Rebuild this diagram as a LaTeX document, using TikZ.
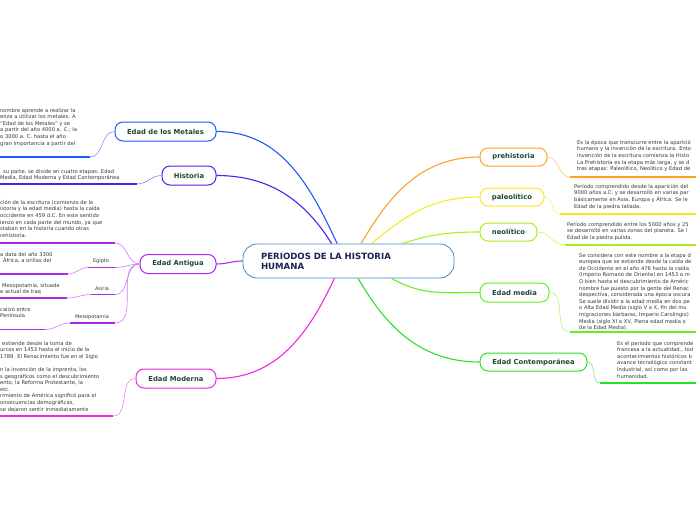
\documentclass[tikz,border=0pt]{standalone}
\usepackage{fontspec}
\setmainfont{DejaVu Sans}

\definecolor{txtverde}{RGB}{28,72,56}
\definecolor{txtazul}{RGB}{22,38,84}
\definecolor{txtgris}{RGB}{55,55,55}
\definecolor{bordecentro}{RGB}{60,140,205}
\definecolor{cmetales}{RGB}{30,90,250}
\definecolor{chistoria}{RGB}{80,30,240}
\definecolor{cantigua}{RGB}{170,40,240}
\definecolor{cmoderna}{RGB}{240,40,220}
\definecolor{cprehist}{RGB}{255,160,40}
\definecolor{cpaleo}{RGB}{245,235,30}
\definecolor{cneo}{RGB}{170,240,30}
\definecolor{cmedia}{RGB}{100,240,30}
\definecolor{ccontemp}{RGB}{40,225,40}

\begin{document}
\begin{tikzpicture}[x=1pt,y=-1pt,
  centro/.style={draw=bordecentro, line width=0.8pt, rounded corners=14pt, fill=white,
    minimum height=34pt, text width=175pt, inner xsep=18pt, align=left,
    text=txtazul, font=\bfseries\fontsize{8.6}{10}\selectfont},
  tema/.style={draw=#1, line width=1pt, rounded corners=8pt, fill=white,
    minimum height=19pt, inner sep=0pt, text=txtverde,
    font=\bfseries\fontsize{6.8}{7}\selectfont},
  hoja/.style={anchor=north west, align=left, inner sep=0pt, text=txtgris,
    font=\fontsize{5.2}{6.6}\selectfont},
  sub/.style={inner sep=0pt, text=txtgris, font=\fontsize{5}{6}\selectfont},
  rama/.style={draw=#1, line width=1.1pt},
  enlace/.style={draw=#1!60, line width=0.6pt},
  raya/.style={draw=#1, line width=1.8pt}]
  \useasboundingbox (0,0) rectangle (696,520);
  \clip (0,0) rectangle (696,520);

  \node[centro] (centro) at (348.5,261) {PERIODOS DE LA HISTORIA\\HUMANA};

  % ramas de la izquierda
  \node[tema=cmetales, minimum width=101pt] (metales) at (165.5,131.5) {Edad de los Metales};
  \node[tema=chistoria, minimum width=54pt] (historia) at (189,175.5) {Historia};
  \node[tema=cantigua, minimum width=76pt] (antigua) at (178,264) {Edad Antigua};
  \node[tema=cmoderna, minimum width=80pt] (moderna) at (176,378.5) {Edad Moderna};

  % ramas de la derecha
  \node[tema=cprehist, minimum width=67pt, minimum height=18pt] (prehist) at (513.5,157) {prehistoria};
  \node[tema=cpaleo, minimum width=64pt, minimum height=18pt] (paleo) at (512,197) {paleolítico};
  \node[tema=cneo, minimum width=57pt, minimum height=18pt] (neo) at (508.5,232) {neolítico};
  \node[tema=cmedia, minimum width=69pt] (media) at (514.5,292.5) {Edad media};
  \node[tema=ccontemp, minimum width=107pt, minimum height=18pt] (contemp) at (533.5,362) {Edad Contemporánea};

  \draw[rama=cmetales] (centro.123) to[out=115,in=0] (metales.east);
  \draw[rama=chistoria] (centro.134) to[out=122,in=0] (historia.east);
  \draw[rama=cantigua] (centro.west) to[out=180,in=0] (antigua.east);
  \draw[rama=cmoderna] (centro.231) to[out=-115,in=0] (moderna.east);
  \draw[rama=cprehist] (centro.54) to[out=60,in=180] (prehist.west);
  \draw[rama=cpaleo] (centro.37) to[out=40,in=180] (paleo.west);
  \draw[rama=cneo] (centro.18) to[out=18,in=180] (neo.west);
  \draw[rama=cmedia] (centro.338) to[out=-30,in=180] (media.west);
  \draw[rama=ccontemp] (centro.299) to[out=-60,in=180] (contemp.west);

  % textos de la izquierda
  \node[hoja] (tmetales) at (0,108) {nombre aprende a realizar la\\enza a utilizar los metales. A\\"Edad de los Metales" y se\\a partir del año 4000 a. C.; la\\o 3000 a. C. hasta el año\\gran importancia a partir del};
  \coordinate (metales-r) at (90,157);
  \coordinate (metales-l) at (0,157);
  \draw[enlace=cmetales] (metales.west) to[out=180,in=0] (metales-r);
  \draw[raya=cmetales] (metales-r) -- (metales-l);

  \node[hoja] (thistoria) at (0,169) {\hspace{3pt}su parte, se divide en cuatro etapas: Edad\\Media, Edad Moderna y Edad Contemporánea};
  \coordinate (historia-r) at (137,184);
  \coordinate (historia-l) at (0,184);
  \draw[enlace=chistoria] (historia.west) to[out=180,in=0] (historia-r);
  \draw[raya=chistoria] (historia-r) -- (historia-l);

  \node[hoja] (tantigua) at (0,200) {ción de la escritura (comienzo de la\\istoria y la edad media) hasta la caída\\occidente en 459 d.C. En este sentido\\ienzo en cada parte del mundo, ya que\\staban en la historia cuando otras\\rehistoria.};
  \coordinate (antigua-r) at (115,243);
  \coordinate (antigua-l) at (0,243);
  \draw[enlace=cantigua] (antigua.west) to[out=180,in=0] (antigua-r);
  \draw[raya=cantigua] (antigua-r) -- (antigua-l);

  \node[sub] (egipto) at (101,261) {Egipto};
  \coordinate (egipto-r) at (115,267.5);
  \coordinate (egipto-m) at (88,267.5);
  \coordinate (egipto-t) at (68,274);
  \coordinate (egipto-l) at (0,274);
  \draw[enlace=cantigua] (antigua.west) to[out=180,in=0] (egipto-r);
  \draw[raya=cantigua] (egipto-r) -- (egipto-m);
  \draw[enlace=cantigua] (egipto-m) to[out=180,in=0] (egipto-t);
  \draw[raya=cantigua] (egipto-t) -- (egipto-l);
  \node[hoja] (tegipto) at (0,252) {a data del año 3300\\\hspace{3pt}África, a orillas del};

  \node[sub] (asiria) at (102,289) {Asiria};
  \coordinate (asiria-r) at (115,294.5);
  \coordinate (asiria-m) at (91,294.5);
  \coordinate (asiria-t) at (67,298);
  \coordinate (asiria-l) at (0,298);
  \draw[enlace=cantigua] (antigua.west) to[out=180,in=0] (asiria-r);
  \draw[raya=cantigua] (asiria-r) -- (asiria-m);
  \draw[enlace=cantigua] (asiria-m) to[out=180,in=0] (asiria-t);
  \draw[raya=cantigua] (asiria-t) -- (asiria-l);
  \node[hoja] (tasiria) at (0,283) {\hspace{2pt}Mesopotamia, situada\\e actual de Iraq};

  \node[sub] (mesopotamia) at (92,317) {Mesopotamia};
  \coordinate (meso-r) at (115,323);
  \coordinate (meso-m) at (70,323);
  \coordinate (meso-t) at (45,329.5);
  \coordinate (meso-l) at (0,329.5);
  \draw[enlace=cantigua] (antigua.west) to[out=180,in=0] (meso-r);
  \draw[raya=cantigua] (meso-r) -- (meso-m);
  \draw[enlace=cantigua] (meso-m) to[out=180,in=0] (meso-t);
  \draw[raya=cantigua] (meso-t) -- (meso-l);
  \node[hoja] (tmeso) at (0,307) {calizó entre\\Península};

  \node[hoja] (tmoderna) at (0,341) {\hspace{2pt}extiende desde la toma de\\urcos en 1453 hasta el inicio de la\\1789. El Renacimiento fue en el Siglo\\[6.6pt]n la invención de la imprenta, los\\s geográficos como el descubrimiento\\ento, la Reforma Protestante, la\\etc.\\rimiento de América significó para el\\onsecuencias demográficas,\\se dejaron sentir inmediatamente};
  \coordinate (moderna-r) at (113,416);
  \coordinate (moderna-l) at (0,416);
  \draw[enlace=cmoderna] (moderna.west) to[out=180,in=0] (moderna-r);
  \draw[raya=cmoderna] (moderna-r) -- (moderna-l);

  % textos de la derecha
  \node[hoja] (tprehist) at (577,140) {Es la época que transcurre entre la aparició\\humano y la invención de la escritura. Ento\\invención de la escritura comienza la Histo\\La Prehistoria es la etapa más larga, y se d\\tres etapas: Paleolítico, Neolítico y Edad de};
  \coordinate (prehist-l) at (570,177);
  \coordinate (prehist-r) at (696,177);
  \draw[enlace=cprehist] (prehist.east) to[out=0,in=180] (prehist-l);
  \draw[raya=cprehist] (prehist-l) -- (prehist-r);

  \node[hoja] (tpaleo) at (574,184) {Período comprendido desde la aparición del\\9000 años a.C. y se desarrolló en varias par\\básicamente en Asia, Europa y África. Se le\\Edad de la piedra tallada.};
  \coordinate (paleo-l) at (560,214);
  \coordinate (paleo-r) at (696,214);
  \draw[enlace=cpaleo] (paleo.east) to[out=0,in=180] (paleo-l);
  \draw[raya=cpaleo] (paleo-l) -- (paleo-r);

  \node[hoja] (tneo) at (567,222) {Período comprendido entre los 5000 años y 25\\se desarrolló en varias zonas del planeta. Se l\\Edad de la piedra pulida.};
  \coordinate (neo-l) at (565,245);
  \coordinate (neo-r) at (696,245);
  \draw[enlace=cneo] (neo.east) to[out=0,in=180] (neo-l);
  \draw[raya=cneo] (neo-l) -- (neo-r);

  \node[hoja] (tmedia) at (579,253) {Se considera con este nombre a la etapa d\\europea que se extiende desde la caída de\\de Occidente en el año 476 hasta la caída\\(Imperio Romano de Oriente) en 1453 a m\\O bien hasta el descubrimiento de Améric\\nombre fue puesto por la gente del Renac\\despectiva, considerada una época oscura\\Se suele dividir a la edad media en dos pe\\o Alta Edad Media (siglo V a X, fin del mu\\migraciones bárbaras, Imperio Carolingio)\\Media (siglo XI a XV, Plena edad media o\\de la Edad Media).};
  \coordinate (media-l) at (570,332);
  \coordinate (media-r) at (696,332);
  \draw[enlace=cmedia] (media.east) to[out=0,in=180] (media-l);
  \draw[raya=cmedia] (media-l) -- (media-r);

  \node[hoja] (tcontemp) at (617,341) {Es el periodo que comprende\\francesa a la actualidad., tod\\acontecimientos históricos b\\avance tecnológico constant\\Industrial, así como por las\\humanidad.};
  \coordinate (contemp-l) at (600,383);
  \coordinate (contemp-r) at (696,383);
  \draw[enlace=ccontemp] (contemp.east) to[out=0,in=180] (contemp-l);
  \draw[raya=ccontemp] (contemp-l) -- (contemp-r);
\end{tikzpicture}
\end{document}
